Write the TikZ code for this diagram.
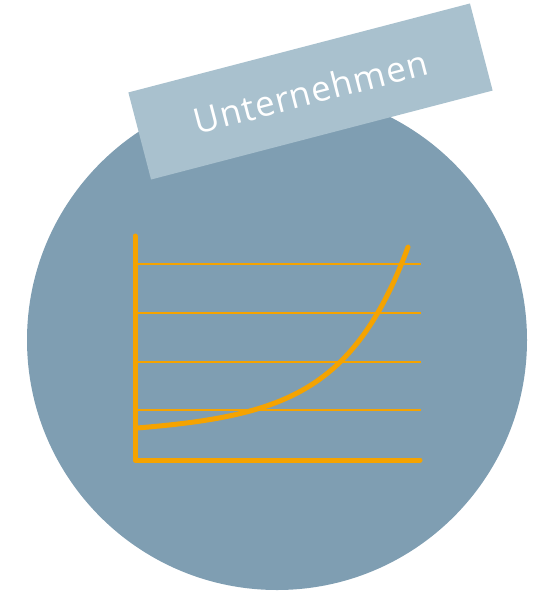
\documentclass[tikz,border=0pt]{standalone}
\usepackage{fontspec}
\setmainfont{Open Sans}
\definecolor{disc}{HTML}{7F9EB2}
\definecolor{tag}{HTML}{A9C1CE}
\definecolor{gold}{HTML}{F5A300}
\begin{document}
\begin{tikzpicture}[x=1pt,y=-1pt,
  axisline/.style={gold,line width=5pt,line cap=round,line join=round},
  gridline/.style={gold,line width=1.2pt},
  curveline/.style={gold,line width=5pt,line cap=round}]
\useasboundingbox (0,0) rectangle (544,592);
\node[circle,fill=disc,minimum size=500pt,inner sep=0pt] (disc) at (277,340) {};
\node[fill=tag,minimum width=353pt,minimum height=90pt,rotate=14.6,inner sep=0pt,
  text=white,font={\addfontfeature{LetterSpace=3}\fontsize{35}{35}\selectfont}] (label) at (310.5,91.5) {\raisebox{-4pt}{Unternehmen}};
\foreach \y in {264,313,362,410} \draw[gridline] (137,\y) -- (421,\y);
\draw[axisline] (135,236) -- (135,460) -- (420,460);
\draw[curveline] plot[domain=0:271,samples=90,smooth] ({137+\x},{428-0.0415*\x-2.58*(exp(0.0155*\x)-1)});
\end{tikzpicture}
\end{document}
